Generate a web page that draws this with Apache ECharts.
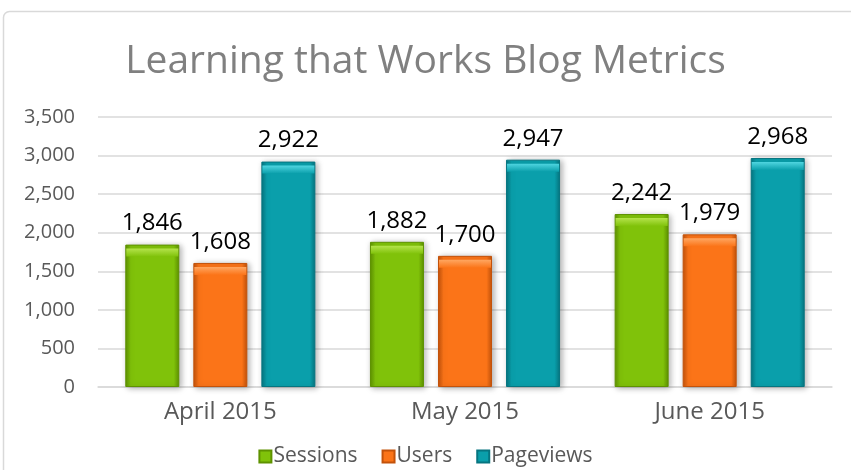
<!DOCTYPE html>
<html>
<head>
<meta charset="utf-8">
<script src="https://cdn.jsdelivr.net/npm/echarts@6/dist/echarts.min.js"></script>
<style>
  html, body { margin: 0; padding: 0; background: #fff; }
  #chart { width: 851px; height: 470px; }
</style>
</head>
<body>
<div id="chart"></div>
<script>
const categories = ["April 2015", "May 2015", "June 2015"];
const sessions = [1846, 1882, 2242];
const users = [1608, 1700, 1979];
const pageviews = [2922, 2947, 2968];
const yTicks = [0, 500, 1000, 1500, 2000, 2500, 3000, 3500];

// 颜色：主色、深边、浅顶
const palette = {
  Sessions: { main: "#80c20a", dark: "#5e9200", light: "#b4e34a" },
  Users: { main: "#fb7418", dark: "#c3520a", light: "#ffa660" },
  Pageviews: { main: "#0a9fab", dark: "#067580", light: "#4fd5e0" },
};

const barWidth = 54;

const makeBar = (name, data) => {
  const c = palette[name];
  return {
    name: name,
    type: "bar",
    barWidth: barWidth,
    barGap: "26%",
    data: data,
    itemStyle: {
      color: new echarts.graphic.LinearGradient(0, 0, 1, 0, [
        { offset: 0, color: c.dark },
        { offset: 0.1, color: c.main },
        { offset: 0.9, color: c.main },
        { offset: 1, color: c.dark },
      ]),
      borderColor: c.dark,
      borderWidth: 1,
      shadowColor: "rgba(0,0,0,0.3)",
      shadowBlur: 6,
      shadowOffsetX: 2,
      shadowOffsetY: 1,
    },
    label: {
      show: true,
      position: "top",
      distance: 9,
      color: "#000",
      fontSize: 24,
      fontFamily: "Open Sans",
      formatter: (p) => p.value.toLocaleString("en-US"),
    },
  };
};

// 顶部高光
const makeCap = (name, data, offsetX) => {
  const c = palette[name];
  return {
    name: name,
    type: "pictorialBar",
    symbol: "rect",
    symbolSize: [barWidth - 2, 8],
    symbolPosition: "end",
    symbolOffset: [offsetX, 4],
    z: 5,
    silent: true,
    itemStyle: {
      color: new echarts.graphic.LinearGradient(0, 0, 0, 1, [
        { offset: 0, color: c.light },
        { offset: 1, color: c.main },
      ]),
    },
    data: data,
  };
};

const step = barWidth + barWidth * 0.26;

const chart = echarts.init(document.getElementById("chart"));
chart.setOption({
  animation: false,
  graphic: [
    {
      type: "rect",
      shape: { x: 3.5, y: 11.5, width: 900, height: 500, r: 6 },
      style: { fill: "none", stroke: "#d9d9d9", lineWidth: 1.5 },
      z: -1,
    },
  ],
  title: {
    text: "Learning that Works Blog Metrics",
    left: "center",
    top: 37,
    textStyle: {
      color: "#808080",
      fontSize: 39,
      fontWeight: "normal",
      fontFamily: "Open Sans",
    },
  },
  legend: {
    data: ["Sessions", "Users", "Pageviews"],
    bottom: -2,
    left: "center",
    itemWidth: 12,
    itemHeight: 12,
    itemGap: 24,
    icon: "rect",
    textStyle: { color: "#595959", fontSize: 21, fontFamily: "Open Sans", padding: [0, 0, 0, -3] },
  },
  grid: { left: 98, right: 19, top: 117, bottom: 83 },
  xAxis: {
    type: "category",
    data: categories,
    axisTick: { show: false },
    axisLine: { lineStyle: { color: "#d9d9d9", width: 1.5 } },
    axisLabel: { color: "#595959", fontSize: 24, fontFamily: "Open Sans", margin: 13 },
  },
  yAxis: {
    type: "value",
    min: yTicks[0],
    max: yTicks[yTicks.length - 1],
    interval: 500,
    axisLine: { show: false },
    axisTick: { show: false },
    splitLine: { lineStyle: { color: "#d9d9d9", width: 1.5 } },
    axisLabel: {
      color: "#595959",
      fontSize: 20,
      fontFamily: "Open Sans",
      margin: 23,
      formatter: (v) => v.toLocaleString("en-US"),
    },
  },
  series: [
    makeBar("Sessions", sessions),
    makeBar("Users", users),
    makeBar("Pageviews", pageviews),
    makeCap("Sessions", sessions, -step),
    makeCap("Users", users, 0),
    makeCap("Pageviews", pageviews, step),
  ],
});
</script>
</body>
</html>
